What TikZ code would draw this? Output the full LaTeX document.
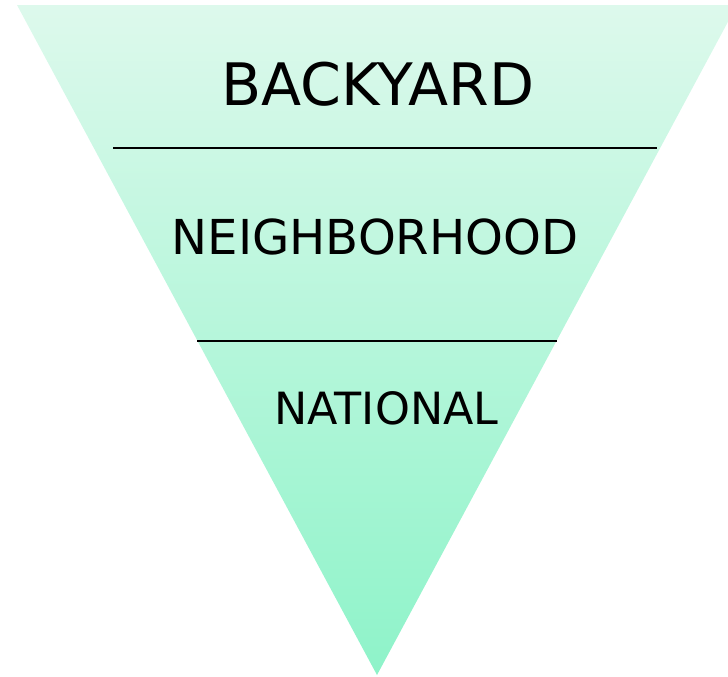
\documentclass[tikz,border=0pt]{standalone}
\usepackage{fontspec}
\setmainfont{DejaVu Sans}
\definecolor{topc}{RGB}{221,249,236}
\definecolor{botc}{RGB}{142,243,201}
\tikzset{
  lvl/.style={anchor=base, inner sep=0pt, text=black},
  sep/.style={draw=black, line width=1.1pt},
}
\begin{document}
\begin{tikzpicture}[x=0.75pt,y=-0.75pt]
\useasboundingbox (0,0) rectangle (728,676);
\begin{scope}
\clip (0,0) rectangle (728,676);
\shade[top color=topc, bottom color=botc] (17,5) -- (737,5) -- (377,675) -- cycle;
\end{scope}
\coordinate (l1a) at (113,148);
\coordinate (l1b) at (657,148);
\coordinate (l2a) at (197,341);
\coordinate (l2b) at (557,341);
\draw[sep] (l1a) -- (l1b);
\draw[sep] (l2a) -- (l2b);
\node[lvl, font=\fontsize{43.9pt}{50pt}\selectfont] (back) at (378,105.5) {BACKYARD};
\node[lvl, font=\fontsize{36.1pt}{42pt}\selectfont] (neigh) at (375,254.5) {NEIGHBORHOOD};
\node[lvl, font=\fontsize{33.3pt}{38pt}\selectfont] (nat) at (386.5,424) {NATIONAL};
\end{tikzpicture}
\end{document}
